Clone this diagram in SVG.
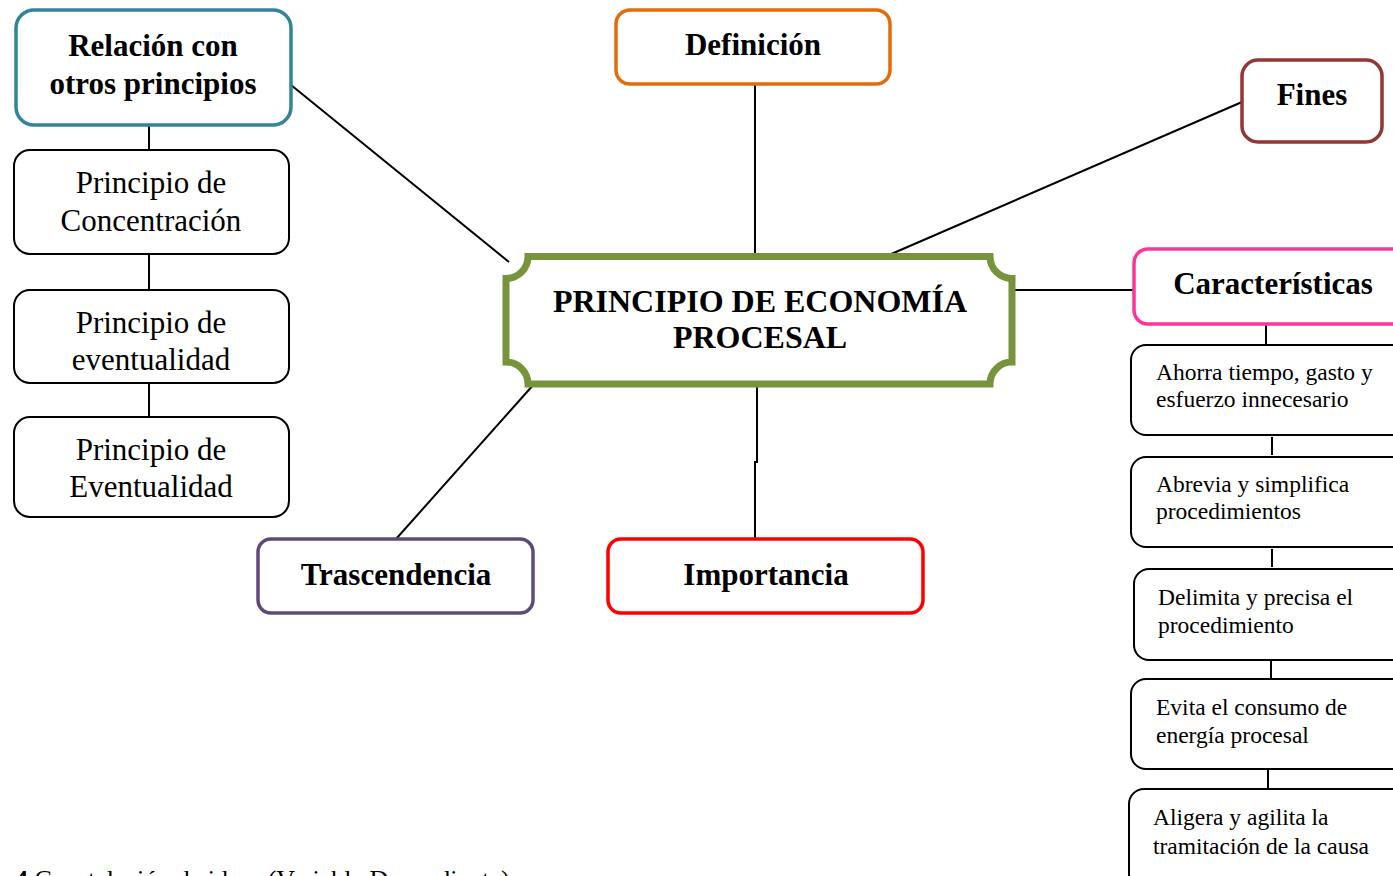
<svg xmlns="http://www.w3.org/2000/svg" width="1393" height="876" viewBox="0 0 1393 876">
<style>
.bg{fill:#ffffff}
.hb{fill:#ffffff;stroke-width:3.5}
.sb{fill:#ffffff;stroke:#000000;stroke-width:2}
.ht{font-family:"Liberation Serif","Times New Roman",serif;font-weight:bold;font-size:31px;fill:#000000;text-anchor:middle}
.st{font-family:"Liberation Serif","Times New Roman",serif;font-size:31px;fill:#000000;text-anchor:middle}
.rt{font-family:"Liberation Serif","Times New Roman",serif;font-size:23.5px;fill:#000000}
.cn{fill:none;stroke:#000000;stroke-width:2}
</style>
<rect class="bg" x="0" y="0" width="1393" height="876"/>
<g id="connectors">
<line class="cn" x1="149" y1="125" x2="149" y2="150"/>
<line class="cn" x1="149" y1="254" x2="149" y2="290"/>
<line class="cn" x1="149" y1="383" x2="149" y2="418"/>
<line class="cn" x1="291" y1="85" x2="509" y2="262"/>
<line class="cn" x1="755" y1="84" x2="755" y2="254"/>
<line class="cn" x1="1242" y1="102" x2="889" y2="255"/>
<line class="cn" x1="1015" y1="290" x2="1134" y2="290"/>
<line class="cn" x1="535" y1="383" x2="396" y2="539"/>
<polyline class="cn" points="757,386 757,462 755,462 755,539"/>
<line class="cn" x1="1266" y1="324" x2="1266" y2="345"/>
<line class="cn" x1="1272" y1="437" x2="1272" y2="455"/>
<line class="cn" x1="1272" y1="549" x2="1272" y2="567"/>
<line class="cn" x1="1271" y1="661" x2="1271" y2="679"/>
<line class="cn" x1="1268" y1="770" x2="1268" y2="789"/>
</g>
<g id="center">
<path d="M528,256.5 H990 A22,22 0 0 0 1012,278.5 V362 A22,22 0 0 0 990,384 H528 A22,22 0 0 0 506,362 V278.5 A22,22 0 0 0 528,256.5 Z" fill="#ffffff" stroke="#77933C" stroke-width="7"/>
<text class="ht" x="760" y="312" style="font-size:32px">PRINCIPIO DE ECONOMÍA</text>
<text class="ht" x="760" y="348" style="font-size:32px">PROCESAL</text>
</g>
<g id="relacion">
<rect class="hb" x="16" y="10" width="275" height="115" rx="18" stroke="#31849B"/>
<text class="ht" x="153" y="56">Relación con</text>
<text class="ht" x="153" y="94">otros principios</text>
</g>
<g id="p1">
<rect class="sb" x="14" y="150" width="275" height="104" rx="16"/>
<text class="st" x="151" y="193">Principio de</text>
<text class="st" x="151" y="231">Concentración</text>
</g>
<g id="p2">
<rect class="sb" x="14" y="290" width="275" height="93" rx="16"/>
<text class="st" x="151" y="333">Principio de</text>
<text class="st" x="151" y="370">eventualidad</text>
</g>
<g id="p3">
<rect class="sb" x="14" y="417" width="275" height="100" rx="16"/>
<text class="st" x="151" y="460">Principio de</text>
<text class="st" x="151" y="497">Eventualidad</text>
</g>
<g id="definicion">
<rect class="hb" x="616" y="10" width="274" height="74" rx="14" stroke="#E36C09"/>
<text class="ht" x="753" y="55">Definición</text>
</g>
<g id="fines">
<rect class="hb" x="1242" y="60" width="140" height="82" rx="16" stroke="#943634"/>
<text class="ht" x="1312" y="105">Fines</text>
</g>
<g id="trascendencia">
<rect class="hb" x="258" y="539" width="275" height="74" rx="13" stroke="#5F497A"/>
<text class="ht" x="396" y="585">Trascendencia</text>
</g>
<g id="importancia">
<rect class="hb" x="608" y="539" width="315" height="74" rx="13" stroke="#FF0000"/>
<text class="ht" x="766" y="585">Importancia</text>
</g>
<g id="caracteristicas">
<rect class="hb" x="1134" y="249" width="290" height="75" rx="14" stroke="#FF3399"/>
<text class="ht" x="1273" y="294">Características</text>
</g>
<g id="c1">
<rect class="sb" x="1131" y="345" width="290" height="90" rx="15"/>
<text class="rt" x="1156" y="380">Ahorra tiempo, gasto y</text>
<text class="rt" x="1156" y="407">esfuerzo innecesario</text>
</g>
<g id="c2">
<rect class="sb" x="1131" y="457" width="290" height="90" rx="15"/>
<text class="rt" x="1156" y="492">Abrevia y simplifica</text>
<text class="rt" x="1156" y="519">procedimientos</text>
</g>
<g id="c3">
<rect class="sb" x="1134" y="569" width="290" height="91" rx="15"/>
<text class="rt" x="1158" y="605">Delimita y precisa el</text>
<text class="rt" x="1158" y="633">procedimiento</text>
</g>
<g id="c4">
<rect class="sb" x="1131" y="679" width="290" height="90" rx="15"/>
<text class="rt" x="1156" y="715">Evita el consumo de</text>
<text class="rt" x="1156" y="743">energía procesal</text>
</g>
<g id="c5">
<rect class="sb" x="1129" y="789" width="290" height="100" rx="15"/>
<text class="rt" x="1153" y="825">Aligera y agilita la</text>
<text class="rt" x="1153" y="854">tramitación de la causa</text>
</g>
<text x="15" y="888" font-family="'Liberation Serif','Times New Roman',serif" font-size="26px" fill="#000000"><tspan font-weight="bold">4</tspan> Constelación de ideas  (Variable Dependiente)</text>
</svg>
